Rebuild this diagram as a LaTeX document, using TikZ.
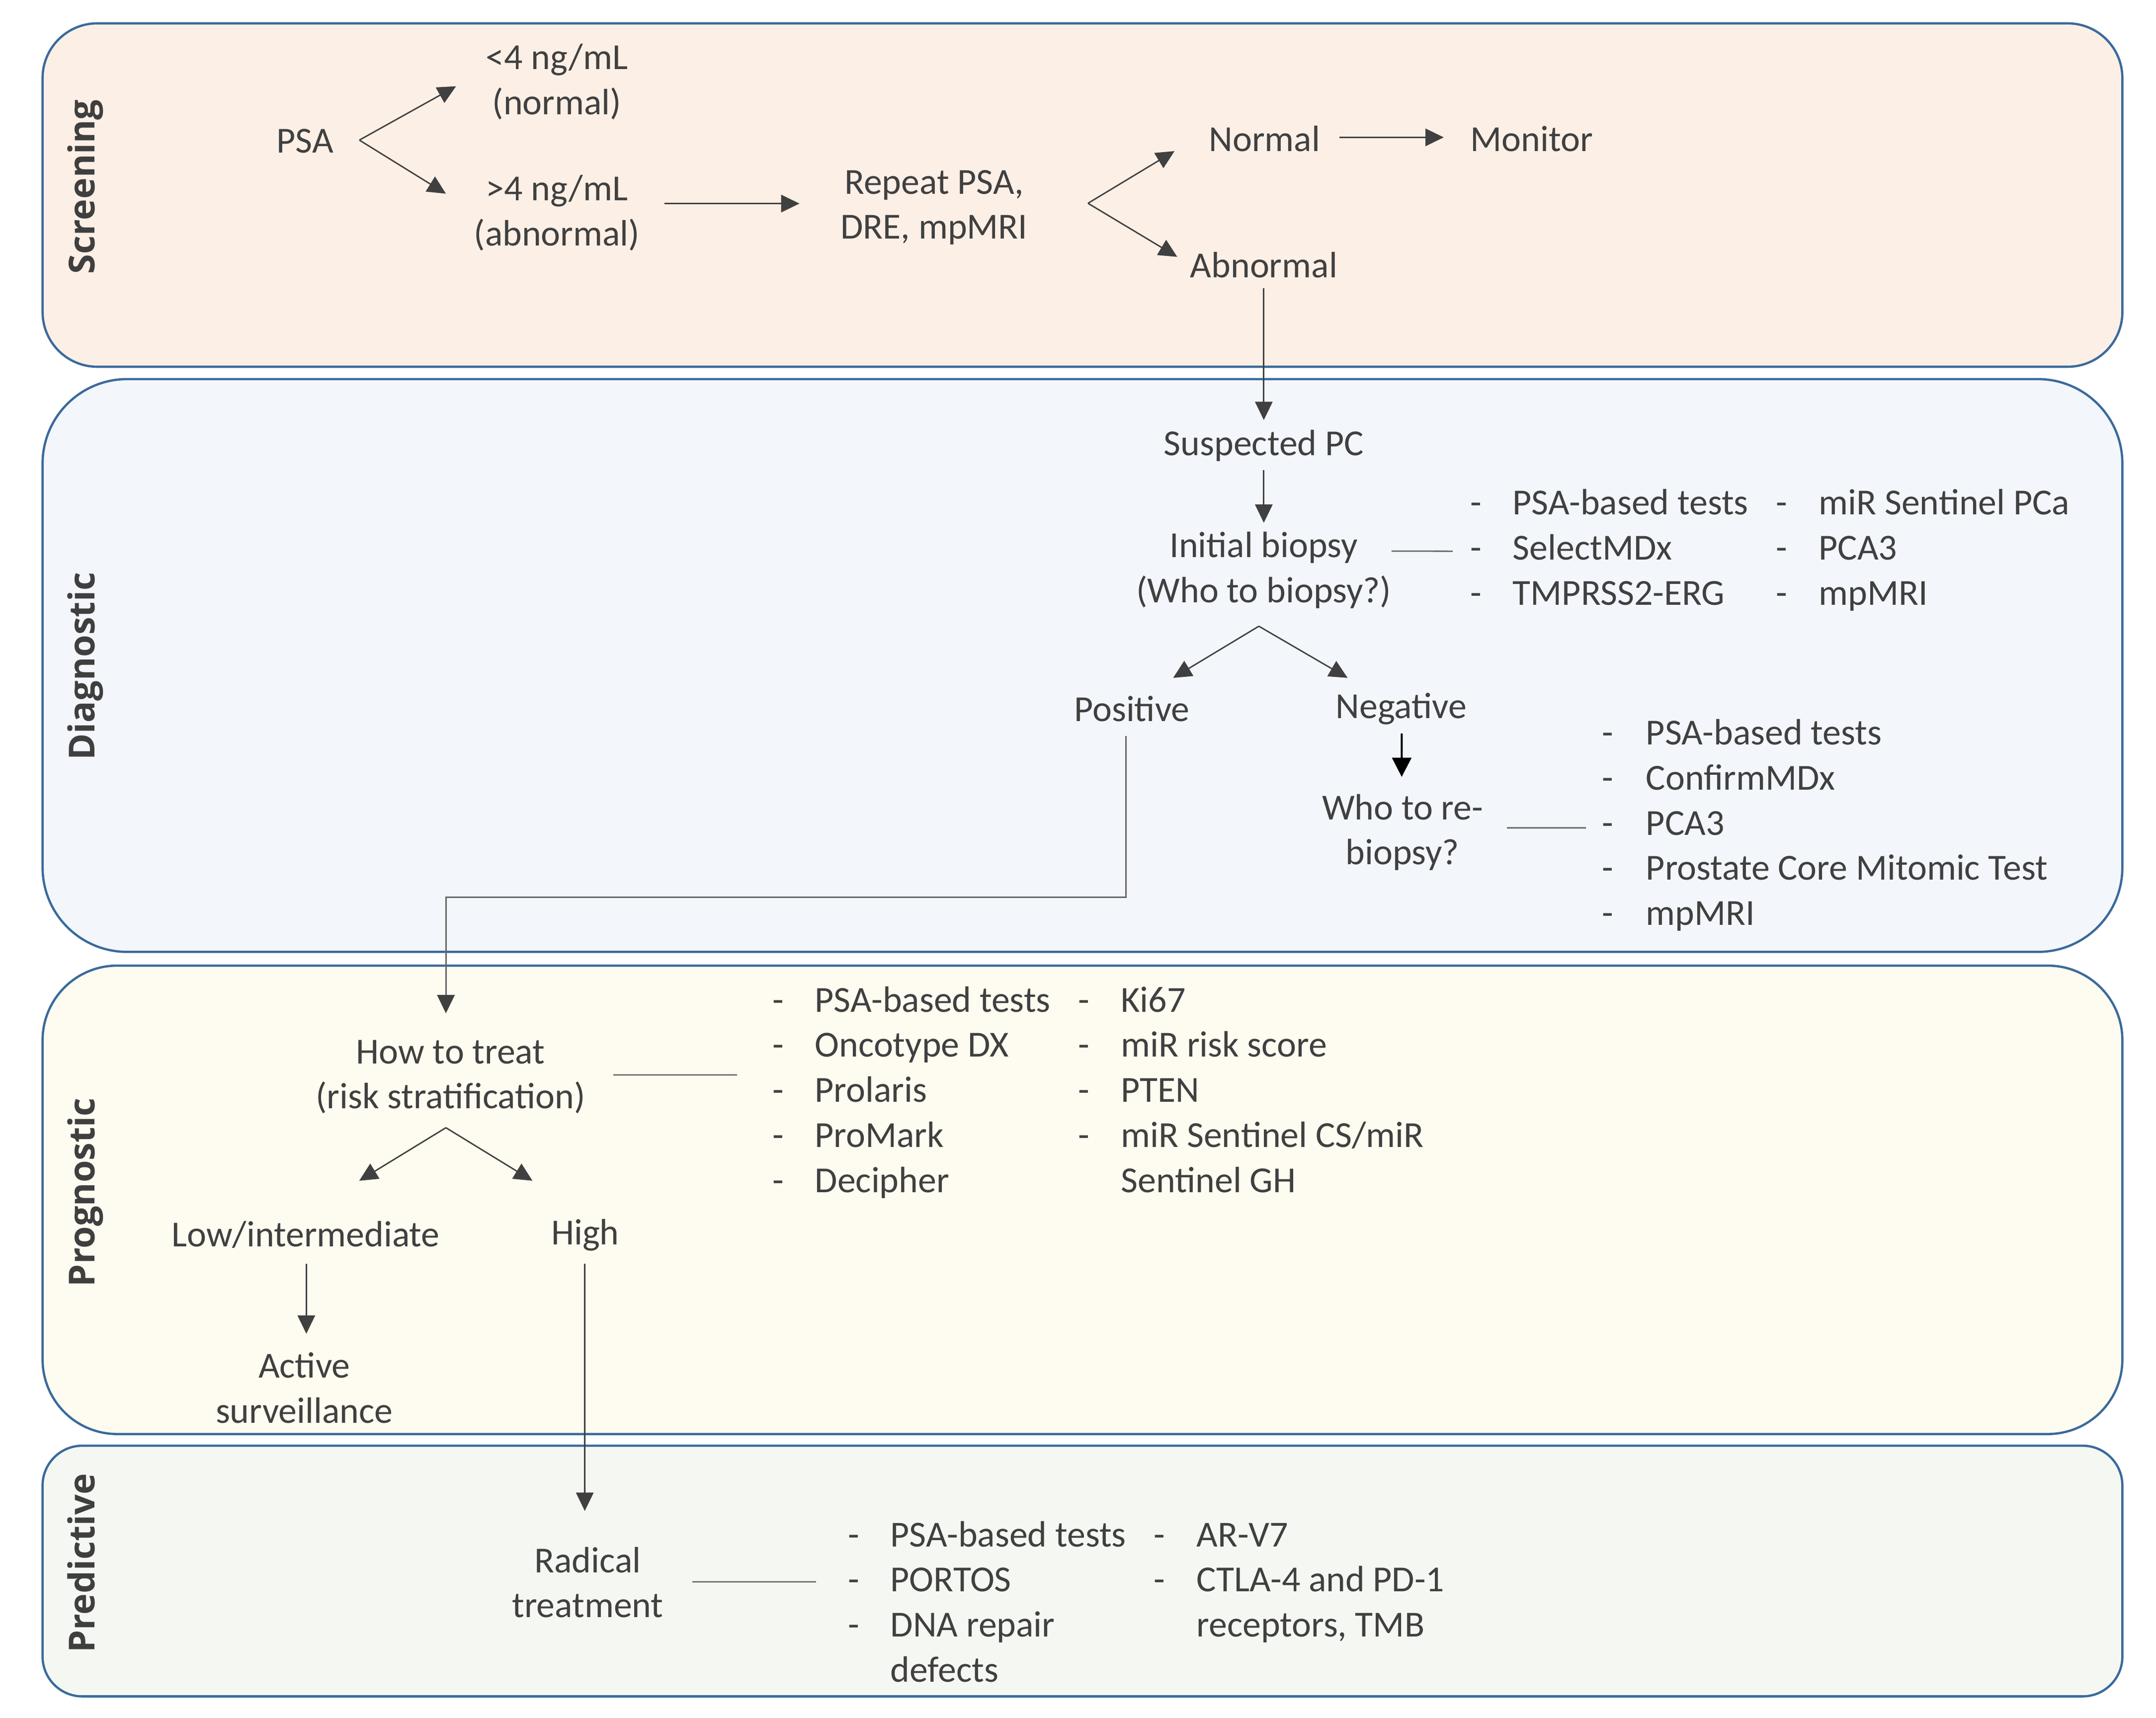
\documentclass[tikz,border=0pt]{standalone}
\usepackage{fontspec}
\setmainfont{Carlito}
\newfontfamily\lblfont{Open Sans}
\usetikzlibrary{arrows.meta,calc}
\definecolor{bordc}{HTML}{3A6A9B}
\definecolor{scrf}{HTML}{FCEFE6}
\definecolor{diaf}{HTML}{F3F6FB}
\definecolor{prof}{HTML}{FEFBF0}
\definecolor{pref}{HTML}{F5F8F2}
\definecolor{textc}{HTML}{404040}
\definecolor{sidec}{HTML}{3F3F3F}
\definecolor{arrc}{HTML}{404040}
\definecolor{lnc}{HTML}{666666}
\begin{document}
\begin{tikzpicture}[x=0.02764cm,y=-0.02764cm,
 txt/.style={text=textc,inner sep=0pt,align=center,font=\fontsize{21}{25.8}\selectfont},
 lst/.style={text=textc,inner sep=0pt,anchor=base west,font=\fontsize{21}{25.8}\selectfont},
 side/.style={text=sidec,inner sep=0pt,rotate=90,anchor=base,font=\lblfont\bfseries\fontsize{20.5}{24}\selectfont},
 panel/.style={draw=bordc,line width=1.3pt},
 arr/.style={draw=arrc,line width=0.8pt,-{Triangle[length=10.5pt,width=10pt]}},
 ln/.style={draw=lnc,line width=0.8pt},
 parr/.style={draw=lnc,line width=0.8pt,-{Triangle[length=10.5pt,width=10pt,color=arrc]}},
 barr/.style={draw=black,line width=1.2pt,-{Triangle[length=11pt,width=11pt]}}]

\path[use as bounding box] (0,0) rectangle (1569.5,1250.4);

% panels
\draw[panel,fill=scrf,rounded corners=1.1cm] (31,17) rectangle (1545,267);
\draw[panel,fill=diaf,rounded corners=1.7cm] (31,276) rectangle (1545,693);
\draw[panel,fill=prof,rounded corners=1.5cm] (31,703) rectangle (1545,1044);
\draw[panel,fill=pref,rounded corners=0.8cm] (31,1052.5) rectangle (1545,1235);

% side labels
\node[side] (sScr) at (69,136) {Screening};
\node[side] (sDia) at (69,485) {Diagnostic};
\node[side] (sPro) at (69,868) {Prognostic};
\node[side] (sPre) at (69,1138) {Predictive};

% screening
\node[txt] (psa) at (222,102.5) {PSA};
\node[txt] (lt4) at (405.4,59.5) {<4 ng/mL\\(normal)};
\node[txt] (gt4) at (405.4,155) {>4 ng/mL\\(abnormal)};
\node[txt] (rep) at (680,151) {Repeat PSA,\\DRE, mpMRI};
\node[txt] (nor) at (920.5,101) {Normal};
\node[txt] (abn) at (920,193) {Abnormal};
\node[txt] (mon) at (1115,101) {Monitor};

% diagnostic
\node[txt] (spc) at (920,324.6) {Suspected PC};
\node[txt] (ib) at (920,415.2) {Initial biopsy\\(Who to biopsy?)};
\node[txt] (pos) at (824,516) {Positive};
\node[txt] (neg) at (1020,516) {Negative};
\node[txt] (reb) at (1021,606) {Who to re-\\biopsy?};
\node[lst] (L1) at (1070,374.8) {\begin{tabular}[t]{@{}p{0.857cm}@{}p{5.3cm}@{}p{0.857cm}@{}l@{}}
- & PSA-based tests & - & miR Sentinel PCa\\
- & SelectMDx & - & PCA3\\
- & TMPRSS2-ERG & - & mpMRI
\end{tabular}};
\node[lst] (L2) at (1166,542.3) {\begin{tabular}[t]{@{}p{0.885cm}@{}l@{}}
- & PSA-based tests\\
- & ConfirmMDx\\
- & PCA3\\
- & Prostate Core Mitomic Test\\
- & mpMRI
\end{tabular}};

% prognostic
\node[txt] (ht) at (328,784) {How to treat\\(risk stratification)};
\node[txt] (low) at (222.5,899) {Low/intermediate};
\node[txt] (high) at (426,899) {High};
\node[txt] (act) at (221.5,1010.5) {Active\\surveillance};
\node[lst] (L3) at (562,736.7) {\begin{tabular}[t]{@{}p{0.857cm}@{}p{5.3cm}@{}p{0.857cm}@{}l@{}}
- & PSA-based tests & - & Ki67\\
- & Oncotype DX & - & miR risk score\\
- & Prolaris & - & PTEN\\
- & ProMark & - & miR Sentinel CS/miR\\
- & Decipher & & Sentinel GH
\end{tabular}};

% predictive
\node[txt] (rad) at (427.8,1152) {Radical\\treatment};
\node[lst] (L4) at (617,1126) {\begin{tabular}[t]{@{}p{0.857cm}@{}p{5.3cm}@{}p{0.857cm}@{}l@{}}
- & PSA-based tests & - & AR-V7\\
- & PORTOS & - & CTLA-4 and PD-1\\
- & DNA repair & & receptors, TMB\\
 & defects & &
\end{tabular}};

% fork points
\coordinate (psaV) at ($(psa.center)+(39.6,-0.5)$);
\coordinate (repV) at ($(rep.center)+(112,-3)$);
\coordinate (ibV) at ($(ib.center)+(-3.6,40.7)$);
\coordinate (htV) at ($(ht.center)+(-3.4,37)$);

% screening connectors
\draw[arr] (psaV) -- ($(lt4.center)+(-73.4,3.3)$);
\draw[arr] (psaV) -- ($(gt4.center)+(-80.8,-14)$);
\draw[arr] ($(gt4.center)+(78.2,-6.8)$) -- ($(rep.center)+(-98,-2.8)$);
\draw[arr] (repV) -- ($(nor.center)+(-65.5,9)$);
\draw[arr] (repV) -- ($(abn.center)+(-63,-6)$);
\draw[arr] ($(nor.center)+(54.5,-1)$) -- ($(mon.center)+(-64,-1)$);
\draw[arr] ($(abn.center)+(0,17)$) -- ($(spc.center)+(0,-18.8)$);

% diagnostic connectors
\draw[arr] ($(spc.center)+(0,17.8)$) -- ($(ib.center)+(0,-34.6)$);
\draw[ln] ($(ib.center)+(93,-14)$) -- ($(L1.base west)+(-12.5,26.5)$);
\draw[arr] (ibV) -- ($(pos.center)+(30,-22.5)$);
\draw[arr] (ibV) -- ($(neg.center)+(-39,-22.5)$);
\draw[barr] ($(neg.center)+(0.4,18)$) -- ($(reb.center)+(-0.6,-40.4)$);
\draw[ln] ($(reb.center)+(76,-3.3)$) -- ($(L2.base west)+(-11.5,60.4)$);
\draw[parr] ($(pos.center)+(-4.4,19.7)$) -- ++(0,117.6) -| ($(ht.center)+(-3.4,-46.3)$);

% prognostic connectors
\draw[ln] ($(ht.center)+(118.5,-1.4)$) -- ($(L3.base west)+(-25.5,45.9)$);
\draw[arr] (htV) -- ($(low.center)+(39,-39.4)$);
\draw[arr] (htV) -- ($(high.center)+(-38.4,-39.4)$);
\draw[arr] ($(low.center)+(0.5,21)$) -- ($(act.center)+(1.5,-39.5)$);
\draw[arr] ($(high.center)+(-0.3,21)$) -- ($(rad.center)+(-2.1,-52)$);

% predictive connector
\draw[ln] ($(rad.center)+(76.2,-0.4)$) -- ($(L4.base west)+(-23,25.6)$);
\end{tikzpicture}
\end{document}
